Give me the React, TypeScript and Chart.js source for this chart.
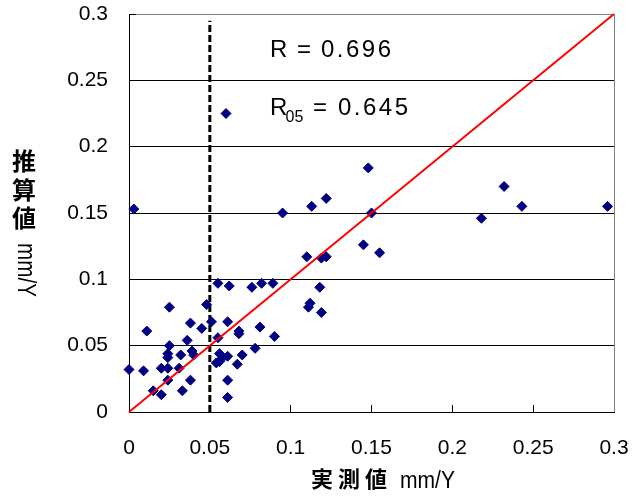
import React, { useEffect, useRef } from "react";
import { Chart, registerables } from "chart.js";

Chart.register(...registerables);

// measured values (x, mm/Y)
const measuredValues = [
  0.003, 0.060, 0.148, 0.150, 0.095, 0.113, 0.122, 0.232, 0.218, 0.243, 0.296,
  0.145, 0.155, 0.110, 0.119, 0.122, 0.118, 0.112, 0.111, 0.119,
  0.055, 0.062, 0.076, 0.082, 0.089,
  0.025, 0.048, 0.011, 0.038, 0.045, 0.051, 0.061, 0.068, 0.068, 0.081, 0.090,
  0.025, 0.036, 0.055, 0.078, 0.070, 0.067, 0.061, 0.061,
  0.056, 0.058, 0.054, 0.061, 0.056,
  0.024, 0.024, 0.032, 0.039, 0.040,
  0.000, 0.009, 0.020, 0.024, 0.031,
  0.024, 0.038, 0.015, 0.020, 0.033,
];
// estimated values (y, mm/Y)
const estimatedValues = [
  0.153, 0.225, 0.184, 0.150, 0.150, 0.155, 0.161, 0.170, 0.146, 0.155, 0.155,
  0.126, 0.120, 0.117, 0.116, 0.117, 0.094, 0.082, 0.079, 0.075,
  0.097, 0.095, 0.094, 0.097, 0.097,
  0.079, 0.081, 0.061, 0.067, 0.063, 0.068, 0.068, 0.061, 0.059, 0.064, 0.057,
  0.050, 0.054, 0.056, 0.048, 0.043, 0.036, 0.024, 0.011,
  0.044, 0.041, 0.037, 0.042, 0.038,
  0.044, 0.041, 0.043, 0.046, 0.043,
  0.032, 0.031, 0.033, 0.033, 0.033,
  0.024, 0.024, 0.016, 0.013, 0.016,
];
const lineX = [0, 0.3];
const lineY = [0, 0.3];
const thresholdX = [0.05, 0.05];
const thresholdY = [0, 0.295];
const xTickLabels = ["0", "0.05", "0.1", "0.15", "0.2", "0.25", "0.3"];
const yTickLabels = ["0", "0.05", "0.1", "0.15", "0.2", "0.25", "0.3"];
const xTitleMain = "実測値";
const yTitleMain = ["推", "算", "値"];
const unitText = "mm/Y";
const rText = { label: "R", eq: "=", value: "0.696" };
const r05Text = { label: "R", sub: "05", eq: "=", value: "0.645" };

const TICK_FONT = '"Liberation Sans", Arial, sans-serif';
const CJK_FONT = '"Noto Sans CJK JP", sans-serif';

function fitText(ctx: CanvasRenderingContext2D, text: string, x: number, y: number, width: number) {
  const w = ctx.measureText(text).width;
  const s = width / w;
  ctx.save();
  ctx.translate(x, y);
  ctx.scale(s, 1);
  ctx.fillText(text, 0, 0);
  ctx.restore();
}

const decorPlugin = {
  id: "decor",
  afterDraw(chart: any) {
    const ctx: CanvasRenderingContext2D = chart.ctx;
    const a = chart.chartArea;
    ctx.save();
    // right border
    ctx.strokeStyle = "#808080";
    ctx.lineWidth = 1;
    ctx.beginPath();
    ctx.moveTo(Math.round(a.right) + 0.5, a.top);
    ctx.lineTo(Math.round(a.right) + 0.5, a.bottom);
    ctx.stroke();

    ctx.fillStyle = "#000";
    ctx.textAlign = "left";
    ctx.textBaseline = "alphabetic";
    // R annotations
    ctx.font = `24px ${TICK_FONT}`;
    (ctx as any).letterSpacing = "0px";
    ctx.fillText(rText.label, 270, 57);
    ctx.fillText(rText.eq, 297, 57);
    (ctx as any).letterSpacing = "2.5px";
    ctx.fillText(rText.value, 321, 57);
    (ctx as any).letterSpacing = "0px";
    ctx.fillText(r05Text.label, 270, 115);
    ctx.font = `16px ${TICK_FONT}`;
    ctx.fillText(r05Text.sub, 285.5, 122);
    ctx.font = `24px ${TICK_FONT}`;
    ctx.fillText(r05Text.eq, 313, 115);
    (ctx as any).letterSpacing = "2.5px";
    ctx.fillText(r05Text.value, 338, 115);
    (ctx as any).letterSpacing = "0px";

    // x title
    ctx.textBaseline = "middle";
    ctx.font = `bold 22px ${CJK_FONT}`;
    (ctx as any).letterSpacing = "5px";
    ctx.fillText(xTitleMain, 311, 479);
    (ctx as any).letterSpacing = "0px";
    ctx.font = `23px ${TICK_FONT}`;
    ctx.textBaseline = "alphabetic";
    fitText(ctx, unitText, 400, 488, 55);

    // y title
    ctx.textAlign = "center";
    ctx.textBaseline = "middle";
    ctx.font = `bold 24px ${CJK_FONT}`;
    const ys = [161, 190, 218];
    yTitleMain.forEach((ch, i) => ctx.fillText(ch, 24, ys[i]));
    ctx.save();
    ctx.translate(25, 270);
    ctx.rotate(Math.PI / 2);
    ctx.font = `26px ${TICK_FONT}`;
    ctx.textAlign = "left";
    ctx.textBaseline = "middle";
    const w = ctx.measureText(unitText).width;
    ctx.scale(54 / w, 1);
    ctx.fillText(unitText, -w / 2, 0);
    ctx.restore();
    ctx.restore();
  },
};

function clearPadding(s: any) {
  s.paddingTop = 0;
  s.paddingBottom = 0;
  s.paddingLeft = 0;
  s.paddingRight = 0;
}

export default function App() {
  const ref = useRef<HTMLCanvasElement | null>(null);
  useEffect(() => {
    if (!ref.current) return;
    const points = measuredValues.map((x, i) => ({ x, y: estimatedValues[i] }));
    const chart = new Chart(ref.current, {
      type: "scatter",
      data: {
        datasets: [
          {
            type: "line",
            data: lineX.map((x, i) => ({ x, y: lineY[i] })),
            borderColor: "#ff0000",
            borderWidth: 2,
            pointRadius: 0,
            clip: false as any,
            order: 0,
          },
          {
            type: "scatter",
            data: points,
            pointStyle: "rectRot",
            pointRadius: 5,
            backgroundColor: "#000080",
            borderColor: "#000080",
            borderWidth: 1,
            clip: false as any,
            order: 1,
          },
          {
            type: "line",
            data: thresholdX.map((x, i) => ({ x, y: thresholdY[i] })),
            borderColor: "#000",
            borderWidth: 3,
            borderDash: [7, 3],
            pointRadius: 0,
            order: 2,
          },
        ],
      },
      options: {
        animation: false,
        responsive: false,
        layout: { padding: { left: 0, right: 28, top: 14, bottom: 0 } },
        plugins: { legend: { display: false }, tooltip: { enabled: false } },
        scales: {
          x: {
            type: "linear",
            min: 0,
            max: 0.3,
            ticks: {
              stepSize: 0.05,
              padding: 31,
              color: "#000",
              font: { family: TICK_FONT, size: 21 },
              maxRotation: 0,
              callback: (_v: any, i: number) => xTickLabels[i],
            },
            grid: { drawOnChartArea: false, drawTicks: true, tickLength: -7, color: "#000", tickColor: "#000" },
            border: { color: "#000", width: 1 },
            afterFit: (s: any) => { s.height = 86; clearPadding(s); },
          },
          y: {
            type: "linear",
            min: 0,
            max: 0.3,
            ticks: {
              stepSize: 0.05,
              padding: 28,
              color: "#000",
              font: { family: TICK_FONT, size: 21 },
              callback: (_v: any, i: number) => yTickLabels[i],
            },
            grid: {
              drawTicks: true,
              tickLength: -7,
              color: (c: any) => (c.tick && Math.abs(c.tick.value - 0.3) < 1e-9 ? "#808080" : "#000"),
              tickColor: "#000",
              lineWidth: 1,
            },
            border: { color: "#000", width: 1 },
            afterFit: (s: any) => { s.width = 129; clearPadding(s); },
          },
        },
      },
      plugins: [decorPlugin],
    } as any);
    return () => chart.destroy();
  }, []);
  return (
    <div style={{ position: "fixed", left: 0, top: 0, width: 642, height: 498, background: "#fff" }}>
      <canvas ref={ref} width={642} height={498} style={{ display: "block", width: 642, height: 498 }} />
    </div>
  );
}
